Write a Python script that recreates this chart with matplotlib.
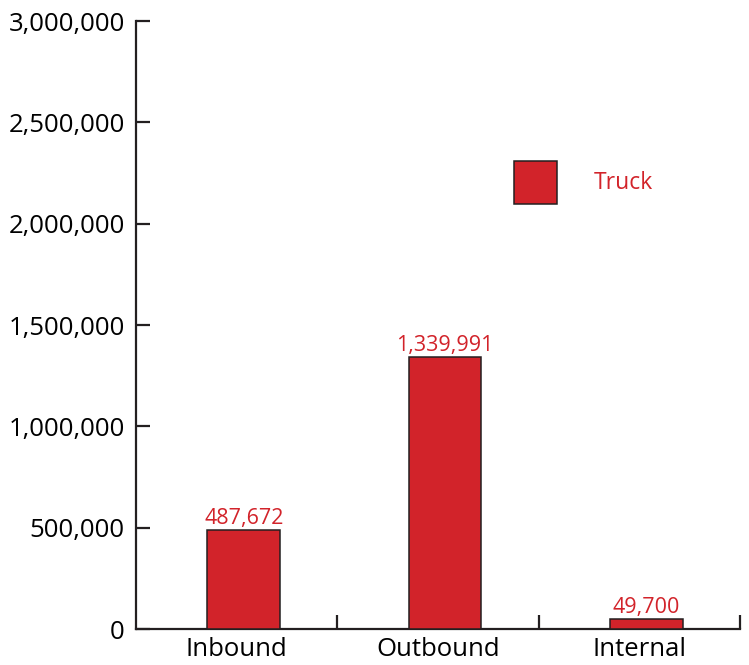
import numpy as np
import matplotlib
matplotlib.use('Agg')
import matplotlib.pyplot as plt
from matplotlib.ticker import FuncFormatter

# data
categories = ['Inbound', 'Outbound', 'Internal']
truck = [487672, 1339991, 49700]
yticks = [0, 500000, 1000000, 1500000, 2000000, 2500000, 3000000]

red = '#d2232a'
ink = '#231f20'

plt.rcParams['font.family'] = ['Open Sans', 'DejaVu Sans']

fig = plt.figure(figsize=(7.49, 6.65), dpi=100)
ax = fig.add_axes([0.1816, 0.0541, 0.988 - 0.1816, 0.9684 - 0.0541])

x = np.arange(len(categories))
bars = ax.bar(x + 0.035, truck, width=0.36, color=red, edgecolor=ink,
              linewidth=1.1, label='Truck', zorder=3)

# value labels above bars
ax.bar_label(bars, labels=['{:,}'.format(v) for v in truck],
             padding=1, color=red, fontsize=15.5)

ax.set_xlim(-0.5, 2.5)
ax.set_ylim(0, 3000000)

ax.spines['top'].set_visible(False)
ax.spines['right'].set_visible(False)
for s in ('left', 'bottom'):
    ax.spines[s].set_color(ink)
    ax.spines[s].set_linewidth(1.6)

ax.set_yticks(yticks)
ax.yaxis.set_major_formatter(FuncFormatter(lambda v, p: '{:,.0f}'.format(v)))
ax.tick_params(axis='y', direction='in', length=10, width=1.6, color=ink,
               labelsize=18.5, pad=8, labelcolor='black')

ax.set_xticks(x)
ax.set_xticklabels(categories)
ax.set_xticks([0.5, 1.5, 2.5], minor=True)
ax.tick_params(axis='x', which='major', length=0, labelsize=18.5, pad=6,
               labelcolor='black')
ax.tick_params(axis='x', which='minor', direction='in', length=10,
               width=1.6, color=ink)

# legend
leg = ax.legend(loc='center left', bbox_to_anchor=(0.626, 0.735),
                frameon=False, fontsize=16.5, handlelength=1.88,
                handleheight=2.5, handletextpad=1.6, borderpad=0,
                borderaxespad=0)
for t in leg.get_texts():
    t.set_color(red)

fig.savefig('out.png', dpi=100)
